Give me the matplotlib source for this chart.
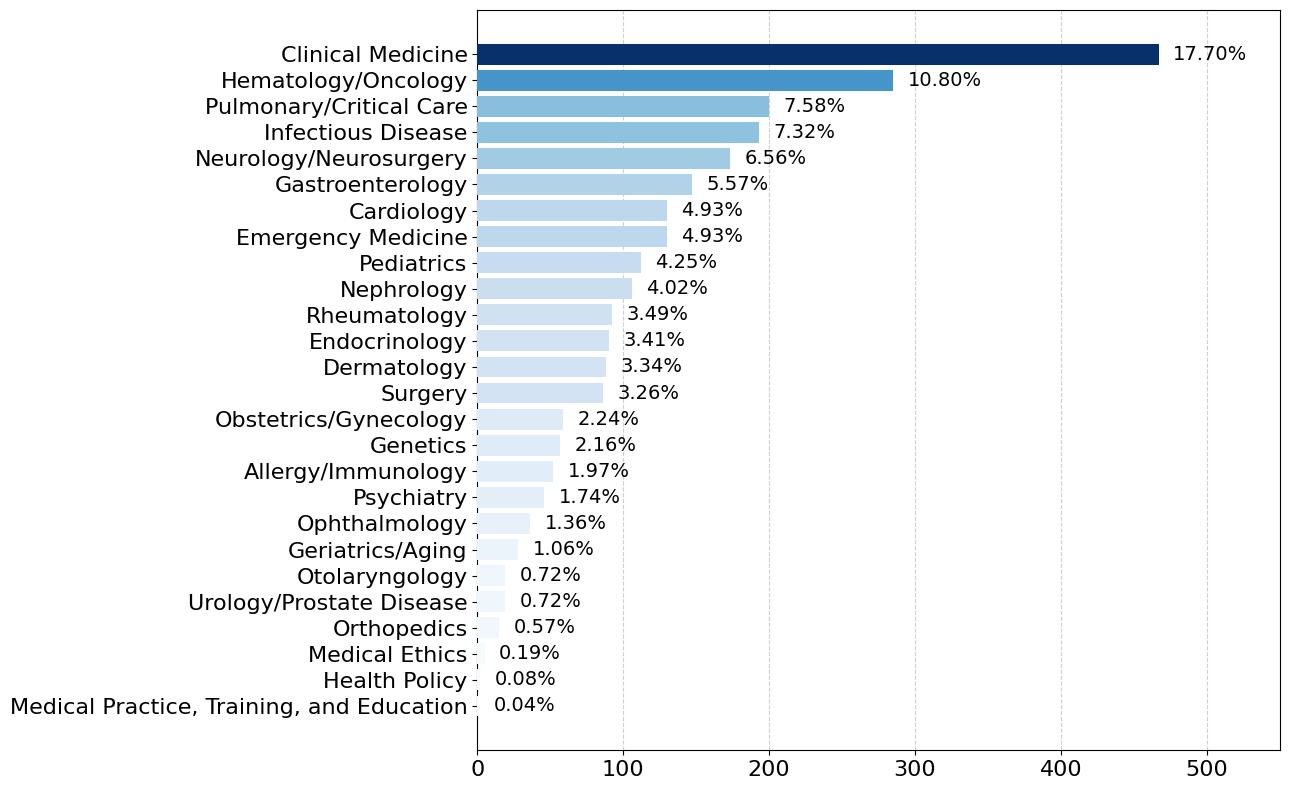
import matplotlib
matplotlib.use("Agg")
import matplotlib.pyplot as plt
import numpy as np

categories = ["Clinical Medicine", "Hematology/Oncology", "Pulmonary/Critical Care",
              "Infectious Disease", "Neurology/Neurosurgery", "Gastroenterology",
              "Cardiology", "Emergency Medicine", "Pediatrics", "Nephrology",
              "Rheumatology", "Endocrinology", "Dermatology", "Surgery",
              "Obstetrics/Gynecology", "Genetics", "Allergy/Immunology", "Psychiatry",
              "Ophthalmology", "Geriatrics/Aging", "Otolaryngology",
              "Urology/Prostate Disease", "Orthopedics", "Medical Ethics",
              "Health Policy", "Medical Practice, Training, and Education"]
counts = [467, 285, 200, 193, 173, 147, 130, 130, 112, 106, 92, 90, 88, 86,
          59, 57, 52, 46, 36, 28, 19, 19, 15, 5, 2, 1]

total = sum(counts)
fig = plt.figure(figsize=(12.9, 7.9), dpi=100)
ax = fig.add_axes([0.37, 0.0506, 0.622, 0.9367])

y = np.arange(len(categories))[::-1]
cmap = plt.get_cmap("Blues")
colors = [cmap(c / max(counts)) for c in counts]
ax.barh(y, counts, color=colors, height=0.8, zorder=3)
for yi, c in zip(y, counts):
    ax.text(c + 10, yi, f"{c / total * 100:.2f}%", va="center", ha="left", fontsize=14)

ax.set_yticks(y)
ax.set_yticklabels(categories, fontsize=16)
ax.tick_params(axis="x", labelsize=16)
ax.set_xlim(0, 550)
ax.grid(axis="x", linestyle="--", alpha=0.6, zorder=0)
fig.savefig("out.png", dpi=100)
